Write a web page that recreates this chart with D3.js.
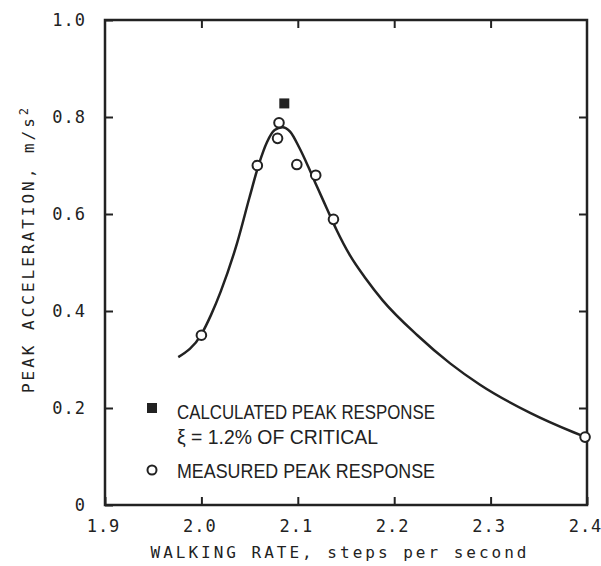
<!DOCTYPE html>
<html>
<head>
<meta charset="utf-8">
<script src="https://cdn.jsdelivr.net/npm/d3@7"></script>
<style>
  body { margin: 0; background: #fff; }
  svg { display: block; }
</style>
</head>
<body>
<div id="chart"></div>
<script>
// Fitted curve
const curveX = [1.976, 2.000, 2.010, 2.020, 2.037, 2.050, 2.060, 2.068, 2.076, 2.084, 2.092, 2.102, 2.111, 2.120, 2.130, 2.140, 2.154, 2.170, 2.188, 2.224, 2.258, 2.289, 2.341, 2.386, 2.396];
const curveY = [0.305, 0.352, 0.392, 0.440, 0.540, 0.635, 0.705, 0.748, 0.773, 0.779, 0.770, 0.735, 0.697, 0.656, 0.612, 0.568, 0.515, 0.468, 0.422, 0.350, 0.292, 0.248, 0.190, 0.150, 0.142];

// Measured peak response (circles)
const measuredX = [2.000, 2.058, 2.079, 2.0805, 2.099, 2.1186, 2.137, 2.398];
const measuredY = [0.350, 0.700, 0.756, 0.788, 0.702, 0.680, 0.589, 0.140];

// Calculated peak response (square)
const calcX = [2.086];
const calcY = [0.828];

const xTicks = [1.9, 2.0, 2.1, 2.2, 2.3, 2.4];
const yTicks = [0, 0.2, 0.4, 0.6, 0.8, 1.0];
const yTickLabels = ["0", "0.2", "0.4", "0.6", "0.8", "1.0"];
const legendLines = ["CALCULATED PEAK RESPONSE", "\u03BE = 1.2% OF CRITICAL", "MEASURED PEAK RESPONSE"];

const width = 601, height = 566;
const margin = {top: 20, right: 14, bottom: 61, left: 105};
const w = width - margin.left - margin.right;
const h = height - margin.top - margin.bottom;
const ink = '#222';

var svg = d3.select('#chart')
    .append('svg')
        .attr('width', width)
        .attr('height', height);

var g = svg.append('g')
    .attr('transform', 'translate(' + margin.left + ',' + margin.top + ')');

var xScale = d3.scaleLinear().domain([1.9, 2.4]).range([0, w]);
var yScale = d3.scaleLinear().domain([0, 1.0]).range([h, 0]);

const tickFont = '"DejaVu Sans Mono", monospace';

// bottom axis: labels and inward ticks
var xb = g.append('g')
    .attr('transform', 'translate(0,' + h + ')')
    .call(d3.axisBottom(xScale).tickValues(xTicks).tickSize(-8).tickPadding(15).tickFormat(d3.format('.1f')));
// top axis: ticks only
var xt = g.append('g')
    .call(d3.axisTop(xScale).tickValues(xTicks.slice(1, -1)).tickSize(-8).tickFormat(''));
// left axis
var yl = g.append('g')
    .call(d3.axisLeft(yScale).tickValues(yTicks).tickSize(-8).tickPadding(19).tickFormat((d, i) => yTickLabels[i]));
// right axis: ticks only
var yr = g.append('g')
    .attr('transform', 'translate(' + w + ',0)')
    .call(d3.axisRight(yScale).tickValues(yTicks.slice(1, -1)).tickSize(-8).tickFormat(''));

[xb, xt, yl, yr].forEach(a => {
    a.select('.domain').remove();
    a.selectAll('line').attr('stroke', ink).attr('stroke-width', 2);
    a.selectAll('text')
        .attr('fill', ink)
        .style('font-family', tickFont)
        .style('font-size', '17px')
        .style('letter-spacing', '1px');
});
yl.selectAll('text').attr('dy', '0.35em');
xb.selectAll('text').attr('dx', '-2px');

// frame
g.append('rect')
    .attr('x', 0).attr('y', 0)
    .attr('width', w).attr('height', h)
    .attr('fill', 'none')
    .attr('stroke', ink)
    .attr('stroke-width', 2.5);

// curve
var line = d3.line()
    .x(d => xScale(d[0]))
    .y(d => yScale(d[1]))
    .curve(d3.curveMonotoneX);

g.append('path')
    .datum(d3.zip(curveX, curveY))
    .attr('d', line)
    .attr('fill', 'none')
    .attr('stroke', ink)
    .attr('stroke-width', 2.5);

// calculated square
g.selectAll('.calc')
    .data(d3.zip(calcX, calcY))
    .enter()
    .append('rect')
        .attr('x', d => xScale(d[0]) - 5)
        .attr('y', d => yScale(d[1]) - 5)
        .attr('width', 10)
        .attr('height', 10)
        .attr('fill', ink);

// measured circles
g.selectAll('.meas')
    .data(d3.zip(measuredX, measuredY))
    .enter()
    .append('circle')
        .attr('cx', d => xScale(d[0]))
        .attr('cy', d => yScale(d[1]))
        .attr('r', 4.8)
        .attr('fill', '#fff')
        .attr('stroke', ink)
        .attr('stroke-width', 2);

// legend
var lg = svg.append('g');
lg.append('rect')
    .attr('x', 147).attr('y', 403).attr('width', 10).attr('height', 10)
    .attr('fill', ink);
lg.append('circle')
    .attr('cx', 152).attr('cy', 470).attr('r', 4.5)
    .attr('fill', '#fff').attr('stroke', ink).attr('stroke-width', 2);
const legendY = [419, 444, 478];
const legendLen = [258, 201, 258];
legendLines.forEach((t, i) => {
    lg.append('text')
        .attr('x', 177)
        .attr('y', legendY[i])
        .attr('textLength', legendLen[i])
        .attr('lengthAdjust', 'spacingAndGlyphs')
        .attr('fill', ink)
        .style('font-family', '"Liberation Sans", sans-serif')
        .style('font-size', '20px')
        .text(t);
});

// axis titles
svg.append('text')
    .attr('x', 340)
    .attr('y', 558)
    .attr('text-anchor', 'middle')
    .attr('fill', ink)
    .style('font-family', tickFont)
    .style('font-size', '16px')
    .style('letter-spacing', '3px')
    .text('WALKING RATE, steps per second');

var yt = svg.append('text')
    .attr('transform', 'translate(34,249) rotate(-90)')
    .attr('text-anchor', 'middle')
    .attr('fill', ink)
    .style('font-family', tickFont)
    .style('font-size', '16px')
    .style('letter-spacing', '3px');
yt.append('tspan').text('PEAK ACCELERATION, m/s');
yt.append('tspan').attr('dy', '-0.5em').style('font-size', '12px').text('2');
</script>
</body>
</html>
